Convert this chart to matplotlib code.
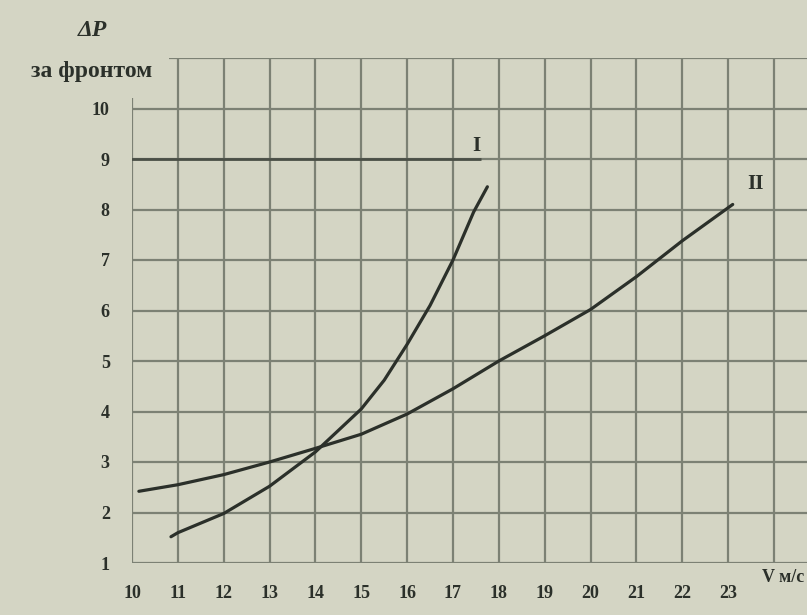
import matplotlib.pyplot as plt
import numpy as np

# Кривая I
v_I = [10.85, 11, 12, 13, 14, 15, 15.5, 16, 16.5, 17, 17.45, 17.75]
dp_I = [1.52, 1.6, 1.98, 2.52, 3.2, 4.05, 4.62, 5.33, 6.1, 7.0, 7.95, 8.45]

# Кривая II
v_II = [10.15, 11, 12, 13, 14, 15, 16, 17, 18, 19, 20, 21, 22, 23.1]
dp_II = [2.42, 2.55, 2.75, 3.0, 3.27, 3.55, 3.95, 4.45, 5.0, 5.5, 6.02, 6.67, 7.38, 8.1]

x_ticks = list(range(10, 24))
y_ticks = list(range(1, 11))

paper = '#d4d5c4'
ink = '#2b302a'
grid_col = '#7c8174'

fig = plt.figure(figsize=(8.07, 6.15), dpi=100, facecolor=paper)
ax = fig.add_axes([132 / 807, 52 / 615, 1 - 132 / 807, 505 / 615])
ax.set_facecolor(paper)
xmax = 24.72
ax.set_xlim(10, xmax)
ax.set_ylim(1, 11)

# сетка
for x in range(10, 25):
    top = 10.2 if x == 10 else 11
    ax.vlines(x, 1, top, color=grid_col, lw=1.6, zorder=1)
for y in range(1, 11):
    ax.hlines(y, 10, xmax, color=grid_col, lw=1.6, zorder=1)
ax.hlines(11, 10.8, xmax, color=grid_col, lw=1.6, zorder=1)
ax.hlines(9, 9.95, 17.6, color='#4a4f46', lw=2.0, zorder=1)

for s in ax.spines.values():
    s.set_visible(False)

ax.plot(v_I, dp_I, color=ink, lw=2.3, zorder=3, solid_capstyle='round')
ax.plot(v_II, dp_II, color=ink, lw=2.3, zorder=3, solid_capstyle='round')

font = dict(family='Liberation Serif', weight='bold', color=ink)

ax.text(17.5, 9.05, 'I', fontsize=15, ha='center', va='bottom', **font)
ax.text(23.6, 8.3, 'II', fontsize=15, ha='center', va='bottom', **font)

ax.set_xticks(x_ticks)
ax.set_xticklabels([str(t) for t in x_ticks], fontsize=13, **font)
ax.set_yticks(y_ticks)
ax.set_yticklabels([str(t) for t in y_ticks], fontsize=13, **font)
ax.tick_params(axis='x', length=0, pad=16)
ax.tick_params(axis='y', length=0, pad=16)

fig.text(0.996, 1 - 578 / 615, 'V м/с', fontsize=13, ha='right', va='center', **font)

fig.text(92 / 807, 1 - 30 / 615, 'ΔP', fontsize=17, ha='center', va='center',
         style='italic', **font)
fig.text(92 / 807, 1 - 72 / 615, 'за фронтом', fontsize=17, ha='center', va='center', **font)

fig.savefig('out.png', dpi=100, facecolor=paper)
